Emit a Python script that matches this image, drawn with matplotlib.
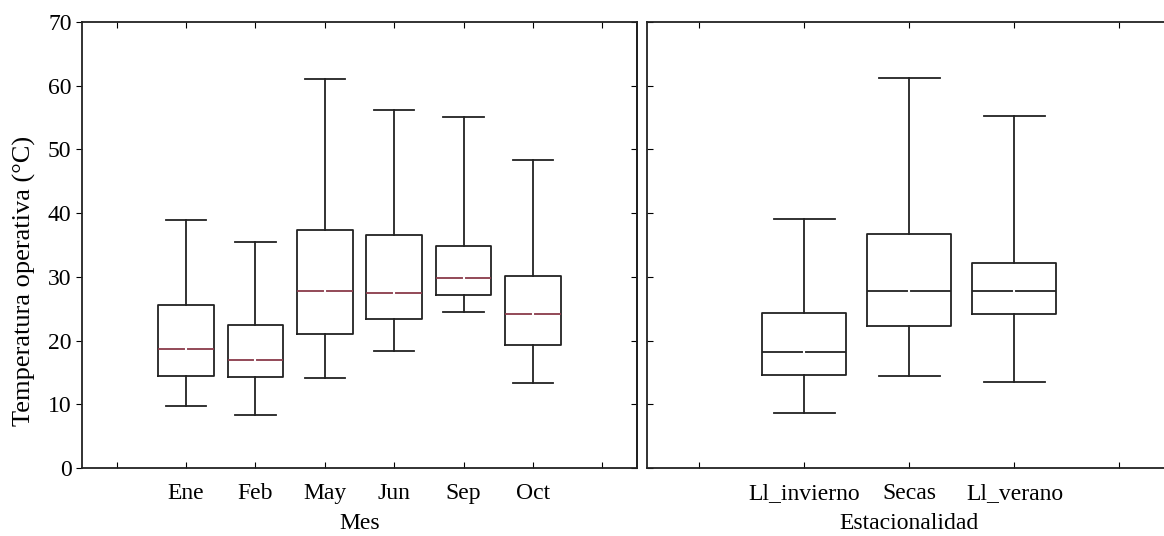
import matplotlib.pyplot as plt

plt.rcParams['font.family'] = ['Liberation Serif', 'DejaVu Serif']

# valores (bigote inferior, Q1, mediana, Q3, bigote superior)
meses = ['Ene', 'Feb', 'May', 'Jun', 'Sep', 'Oct']
mes_min = [9.8, 8.3, 14.2, 18.4, 24.5, 13.3]
mes_q1 = [14.5, 14.3, 21.0, 23.4, 27.1, 19.3]
mes_med = [18.7, 17.0, 27.8, 27.4, 29.8, 24.1]
mes_q3 = [25.6, 22.5, 37.4, 36.5, 34.8, 30.2]
mes_max = [39.0, 35.4, 61.0, 56.2, 55.1, 48.3]

estaciones = ['Ll_invierno', 'Secas', 'Ll_verano']
est_min = [8.6, 14.4, 13.5]
est_q1 = [14.6, 22.3, 24.2]
est_med = [18.2, 27.8, 27.8]
est_q3 = [24.4, 36.8, 32.2]
est_max = [39.1, 61.2, 55.3]

yticks = [0, 10, 20, 30, 40, 50, 60, 70]


def cajas(ax, nombres, mn, q1, med, q3, mx, color_med):
    stats = []
    for i in range(len(nombres)):
        stats.append({'whislo': mn[i], 'q1': q1[i], 'med': med[i],
                      'q3': q3[i], 'whishi': mx[i], 'fliers': []})
    pos = list(range(1, len(nombres) + 1))
    ax.bxp(stats, positions=pos, widths=0.8, capwidths=0.58, showfliers=False,
           boxprops=dict(color='#222222', linewidth=1.3),
           whiskerprops=dict(color='#222222', linewidth=1.3),
           capprops=dict(color='#222222', linewidth=1.3),
           medianprops=dict(color=color_med, linewidth=1.3))
    # pequeño hueco blanco en el centro de la mediana
    ax.plot(pos, med, linestyle='none', marker='|', color='white',
            markersize=3, markeredgewidth=1.5, zorder=5)
    ax.set_ylim(0, 70)
    ax.set_yticks(yticks)
    for s in ax.spines.values():
        s.set_linewidth(1.3)
        s.set_color('#222222')


fig = plt.figure(figsize=(11.64, 5.36), dpi=100)
ax1 = fig.add_axes([0.0704, 0.1269, 0.4768, 0.832])
ax2 = fig.add_axes([0.5558, 0.1269, 0.451, 0.832])

cajas(ax1, meses, mes_min, mes_q1, mes_med, mes_q3, mes_max, '#8a3a4a')
ax1.set_xlim(-0.5, 7.5)
ax1.set_xticks(range(0, 8))
ax1.set_xticklabels([''] + meses + [''])
ax1.tick_params(axis='x', direction='in', top=True, length=4, labelsize=17, pad=11)
ax1.tick_params(axis='y', direction='out', length=4, labelsize=17)
ax1.tick_params(axis='y', which='both', right=False)
ax1.set_xlabel('Mes', fontsize=17, labelpad=6)
ax1.set_ylabel('Temperatura operativa (°C)', fontsize=19)
ax1.yaxis.set_label_coords(-0.083, 0.42)
# ticks internos en el borde derecho
ax1r = ax1.secondary_yaxis('right')
ax1r.set_yticks(yticks)
ax1r.tick_params(direction='in', length=4, labelright=False)
ax1r.spines['right'].set_linewidth(1.3)

cajas(ax2, estaciones, est_min, est_q1, est_med, est_q3, est_max, '#222222')
ax2.set_xlim(-0.5, 4.5)
ax2.set_xticks(range(0, 5))
ax2.set_xticklabels([''] + estaciones + [''])
ax2.tick_params(axis='x', direction='in', top=True, length=4, labelsize=17, pad=11)
ax2.tick_params(axis='y', direction='in', length=4, labelleft=False)
ax2.set_xlabel('Estacionalidad', fontsize=17, labelpad=6)

fig.savefig('out.png', dpi=100)
